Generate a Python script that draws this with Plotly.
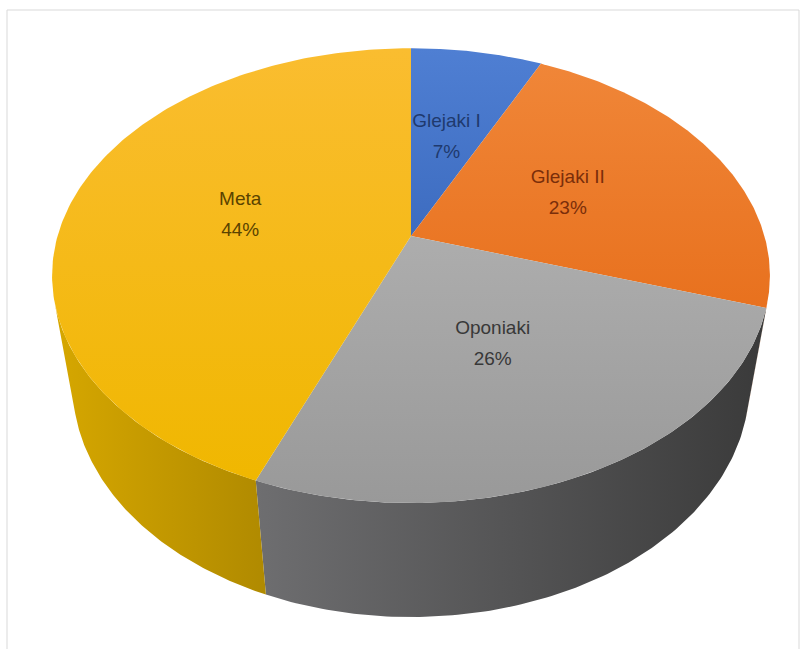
import numpy as np
import plotly.graph_objects as go

# ---- data ----
labels = ["Glejaki I", "Glejaki II", "Oponiaki", "Meta"]
values = [7, 23, 26, 44]

# top-face gradient (upper colour, lower colour) per slice
top_colors = [
    ("#4F7FD3", "#3D6CC0"),
    ("#F08638", "#E8711E"),
    ("#ADADAD", "#999999"),
    ("#FABD30", "#F0B700"),
]
# side-wall gradient (left colour, right colour) per slice
wall_colors = [
    ("#3A5F9F", "#2F4F88"),
    ("#C8651E", "#B85A18"),
    ("#6E6E70", "#3A3A3A"),
    ("#D6A700", "#B08A00"),
]
text_colors = ["#1F3A6E", "#7A2E0A", "#383838", "#5A4300"]

# ---- perspective camera looking down at a unit-radius disc (pixel space) ----
CX, CY = 411.0, 236.0          # screen position of the disc centre
PITCH = np.radians(38.6)       # camera elevation
DIST = 4.49                    # camera distance, in disc radii
FOCAL = 1587.0                 # focal length in pixels
THICK = 0.422                  # disc thickness, in disc radii


def proj(a_deg, r=1.0, drop=0.0):
    """Project the point at clockwise angle a_deg (0 = far side) on the disc."""
    a = np.radians(a_deg)
    u = r * np.sin(a)
    v = -r * np.cos(a)                 # positive toward the viewer
    yw = -THICK * drop                 # height in the world
    depth = DIST - yw * np.sin(PITCH) - v * np.cos(PITCH)
    yc = yw * np.cos(PITCH) - v * np.sin(PITCH)
    return CX + FOCAL * u / depth, CY - FOCAL * yc / depth


total = float(sum(values))
bounds = np.concatenate([[0.0], np.cumsum(values) / total * 360.0])

fig = go.Figure()

# the wall faces the camera where v > 1 / (DIST * cos(PITCH))
v_sil = 1.0 / (DIST * np.cos(PITCH))
vis_lo = np.degrees(np.arccos(-v_sil))
vis_hi = 360.0 - vis_lo

# side walls
for i in range(len(values)):
    a1, a2 = max(bounds[i], vis_lo), min(bounds[i + 1], vis_hi)
    if a2 <= a1:
        continue
    angs = np.linspace(a1, a2, 120)
    xt, yt = proj(angs)
    xb, yb = proj(angs, drop=1.0)
    xs = np.concatenate([xt, xb[::-1], xt[:1]])
    ys = np.concatenate([yt, yb[::-1], yt[:1]])
    fig.add_trace(go.Scatter(
        x=xs, y=ys, mode="lines", fill="toself", line=dict(width=0),
        fillgradient=dict(type="horizontal", start=float(xs.min()), stop=float(xs.max()),
                          colorscale=[[0, wall_colors[i][0]], [1, wall_colors[i][1]]]),
        hoverinfo="skip", showlegend=False))

# top faces
for i in range(len(values)):
    angs = np.linspace(bounds[i], bounds[i + 1], 200)
    xa, ya = proj(angs)
    xs = np.concatenate([[CX], xa, [CX]])
    ys = np.concatenate([[CY], ya, [CY]])
    fig.add_trace(go.Scatter(
        x=xs, y=ys, mode="lines", fill="toself", line=dict(width=0),
        fillgradient=dict(type="vertical", start=float(ys.min()), stop=float(ys.max()),
                          colorscale=[[0, top_colors[i][0]], [1, top_colors[i][1]]]),
        hoverinfo="skip", showlegend=False))

# data labels at the middle of each slice
mids = (bounds[:-1] + bounds[1:]) / 2.0
lx, ly = proj(mids, r=0.5)
font_family = "Liberation Sans Narrow, Arial Narrow, Liberation Sans, sans-serif"
pcts = [f"{v / total * 100:.0f}%" for v in values]
fig.add_trace(go.Scatter(
    x=lx, y=ly - 15, mode="text", text=labels,
    textfont=dict(family=font_family, size=19, color=text_colors),
    hoverinfo="skip", showlegend=False))
fig.add_trace(go.Scatter(
    x=lx, y=ly + 16, mode="text", text=pcts,
    textfont=dict(family=font_family, size=19, color=text_colors),
    hoverinfo="skip", showlegend=False))

# chart-area frame
fig.add_shape(type="rect", xref="x", yref="y", x0=7, y0=10, x1=799, y1=660,
              line=dict(color="#D9D9D9", width=1), fillcolor="rgba(0,0,0,0)", layer="below")

fig.update_layout(
    width=800, height=649,
    margin=dict(l=0, r=0, t=0, b=0),
    paper_bgcolor="white", plot_bgcolor="white",
    xaxis=dict(range=[0, 800], visible=False, fixedrange=True),
    yaxis=dict(range=[649, 0], visible=False, fixedrange=True),
)

fig.write_html("out.html")
